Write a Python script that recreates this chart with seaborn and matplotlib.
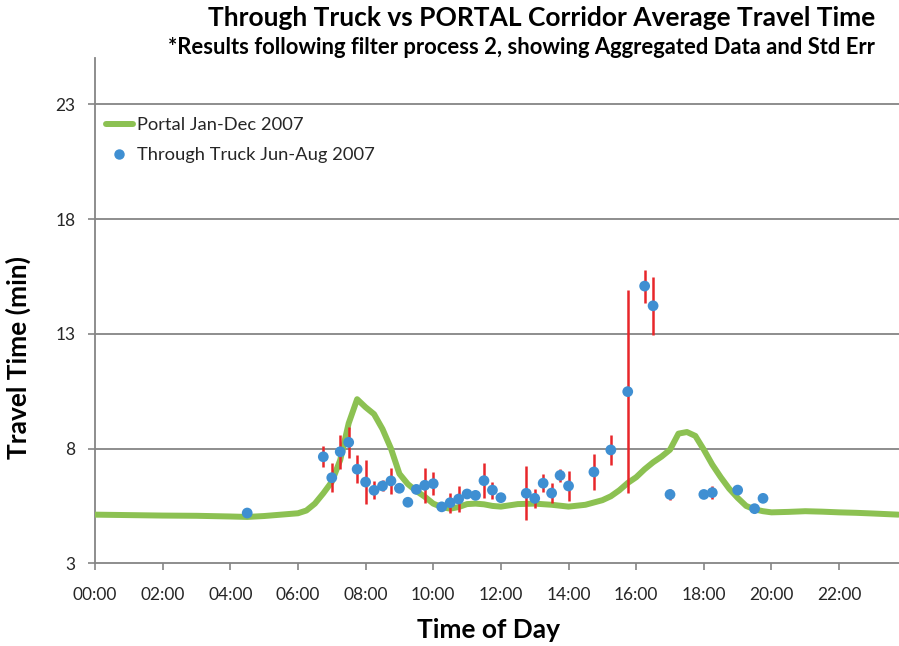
import matplotlib
matplotlib.use("Agg")
import matplotlib.pyplot as plt
from matplotlib.lines import Line2D
import seaborn as sns
import pandas as pd

# PORTAL corridor average travel time, Jan-Dec 2007 (hour of day, minutes)
portal_hours = [0, 1, 2, 3, 4, 4.5, 5, 5.5, 6, 6.25, 6.5, 6.75, 7, 7.25, 7.5, 7.75,
                8, 8.25, 8.5, 8.75, 9, 9.25, 9.5, 9.75, 10, 10.25, 10.5, 10.75, 11,
                11.25, 11.5, 11.75, 12, 12.5, 13, 13.5, 14, 14.5, 15, 15.25, 15.5,
                15.75, 16, 16.25, 16.5, 16.75, 17, 17.25, 17.5, 17.75, 18, 18.25,
                18.5, 18.75, 19, 19.25, 19.5, 19.75, 20, 20.5, 21, 21.5, 22, 22.5,
                23, 23.75]
portal_minutes = [5.12, 5.10, 5.08, 5.07, 5.04, 5.02, 5.06, 5.12, 5.18, 5.30, 5.60,
                  6.05, 6.55, 7.50, 9.10, 10.15, 9.80, 9.50, 8.85, 8.00, 6.90, 6.45,
                  6.15, 5.90, 5.60, 5.45, 5.38, 5.45, 5.58, 5.60, 5.57, 5.50, 5.47,
                  5.58, 5.60, 5.55, 5.47, 5.55, 5.75, 5.92, 6.18, 6.50, 6.75, 7.10,
                  7.40, 7.65, 7.95, 8.65, 8.72, 8.55, 7.95, 7.30, 6.75, 6.25, 5.85,
                  5.50, 5.35, 5.27, 5.22, 5.24, 5.27, 5.25, 5.22, 5.20, 5.17, 5.12]

# Through truck aggregated travel time, Jun-Aug 2007, with standard error
truck_hours = [4.5, 6.75, 7.0, 7.25, 7.5, 7.75, 8.0, 8.25, 8.5, 8.75, 9.0, 9.25, 9.5,
               9.75, 10.0, 10.25, 10.5, 10.75, 11.0, 11.25, 11.5, 11.75, 12.0, 12.75,
               13.0, 13.25, 13.5, 13.75, 14.0, 14.75, 15.25, 15.75, 16.25, 16.5, 17.0,
               18.0, 18.25, 19.0, 19.5, 19.75]
truck_minutes = [5.19, 7.64, 6.73, 7.86, 8.27, 7.10, 6.54, 6.18, 6.37, 6.59, 6.27,
                 5.66, 6.22, 6.40, 6.47, 5.46, 5.64, 5.80, 6.02, 5.96, 6.60, 6.19,
                 5.86, 6.05, 5.83, 6.49, 6.06, 6.83, 6.37, 6.98, 7.94, 10.48, 15.08,
                 14.22, 6.00, 6.00, 6.08, 6.19, 5.38, 5.83]
truck_stderr = [0.0, 0.45, 0.63, 0.74, 0.67, 0.60, 0.95, 0.40, 0.24, 0.57, 0.0, 0.0,
                0.0, 0.77, 0.50, 0.0, 0.44, 0.55, 0.0, 0.0, 0.75, 0.37, 0.10, 1.18,
                0.41, 0.40, 0.42, 0.30, 0.64, 0.80, 0.67, 4.43, 0.72, 1.27, 0.25,
                0.0, 0.27, 0.10, 0.0, 0.0]

y_ticks = [3, 8, 13, 18, 23]
x_ticks = list(range(0, 24, 2))
x_tick_labels = [f"{h:02d}:00" for h in x_ticks]

portal = pd.DataFrame({"hour": portal_hours, "minutes": portal_minutes})
truck = pd.DataFrame({"hour": truck_hours, "minutes": truck_minutes, "se": truck_stderr})

sns.set_theme(style="white")
plt.rcParams["font.family"] = ["Lato", "DejaVu Sans"]

GREEN = "#8cc152"
BLUE = "#3f8fd2"
RED = "#e8262a"
GRID = "#858585"
TEXT = "#262626"

fig = plt.figure(figsize=(8.99, 6.46), dpi=100)
ax = fig.add_axes([95 / 899, 1 - 563.3 / 646, 1 - 95 / 899, (563.3 - 58.4) / 646])

sns.lineplot(data=portal, x="hour", y="minutes", ax=ax, color=GREEN, linewidth=4.3,
             zorder=3, legend=False)
ax.errorbar(truck["hour"], truck["minutes"], yerr=truck["se"], fmt="none",
            ecolor=RED, elinewidth=1.8, capsize=0, zorder=4)
sns.scatterplot(data=truck, x="hour", y="minutes", ax=ax, color=BLUE, s=60,
                edgecolor="none", zorder=5, legend=False)

ax.set_xlim(0, 23.77)
ax.set_ylim(3, 25)
ax.set_yticks(y_ticks)
ax.set_xticks(x_ticks)
ax.set_xticklabels(x_tick_labels)
for y in y_ticks[1:]:
    ax.axhline(y, color=GRID, linewidth=1.3, zorder=1)

for side in ["top", "right"]:
    ax.spines[side].set_visible(False)
for side in ["left", "bottom"]:
    ax.spines[side].set_color(GRID)
    ax.spines[side].set_linewidth(1.3)
ax.tick_params(axis="both", which="major", direction="out", length=5, width=1.2,
               color=GRID, labelsize=12.5, labelcolor=TEXT, left=True, bottom=True)
ax.tick_params(axis="x", pad=12)
ax.tick_params(axis="y", pad=9)

ax.set_xlabel("Time of Day", fontsize=19, fontweight="bold", color="black")
ax.set_ylabel("Travel Time (min)", fontsize=19, fontweight="bold", color="black")
ax.xaxis.set_label_coords(0.489, -0.108)
ax.yaxis.set_label_coords(-0.079, 0.408)

handles = [
    Line2D([], [], color=GREEN, linewidth=4.3),
    Line2D([], [], color=BLUE, marker="o", linestyle="none", markersize=6.5),
]
ax.legend(handles, ["Portal Jan-Dec 2007", "Through Truck Jun-Aug 2007"],
          loc="upper left", bbox_to_anchor=(0.0, 0.905), frameon=False,
          fontsize=13.2, handlelength=1.45, handletextpad=0.25, labelspacing=0.75,
          borderaxespad=0.2, labelcolor=TEXT)

fig.text(0.603, 0.972, "Through Truck vs PORTAL Corridor Average Travel Time",
         ha="center", va="center", fontsize=19, fontweight="bold", color="black")
fig.text(0.58, 0.926, "*Results following filter process 2, showing Aggregated Data and Std Err",
         ha="center", va="center", fontsize=15.8, fontweight="bold", color="black")

fig.savefig("out.png", dpi=100, facecolor="white")
